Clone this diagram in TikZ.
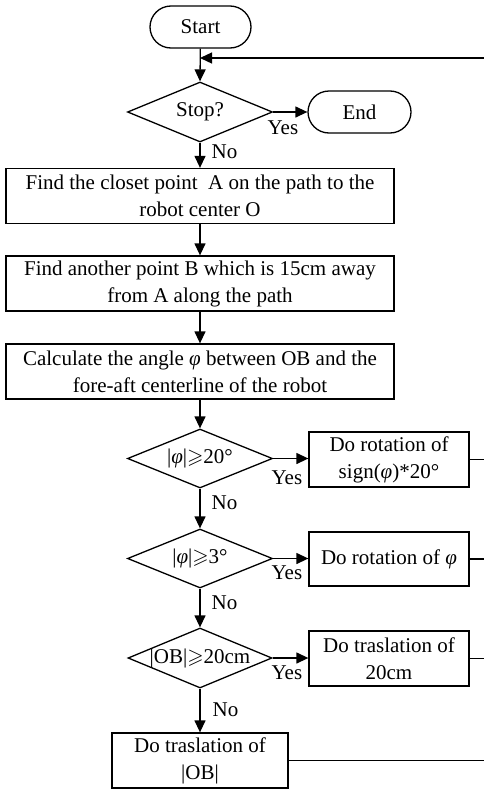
\documentclass[tikz,border=0pt]{standalone}
\usepackage{fontspec}
\usepackage{amssymb}
\setmainfont{Liberation Serif}
\usetikzlibrary{shapes.geometric,arrows.meta}
\newcommand{\ph}{{\itshape φ}}
\newcommand{\gs}{\ensuremath{\geqslant}}
\begin{document}
\begin{tikzpicture}[x=1pt,y=-1pt,
  font=\fontsize{21}{27}\selectfont,
  line width=1.3pt,
  >={Triangle[length=12pt,width=11pt]},
  term/.style={draw,rectangle,rounded corners=21pt,minimum height=42pt,inner sep=0pt},
  proc/.style={draw,rectangle,align=center,inner sep=0pt,minimum height=55pt},
  dec/.style={draw,diamond,inner sep=0pt,minimum width=145pt,minimum height=60pt},
  lbl/.style={inner sep=0pt,anchor=west}]
\useasboundingbox (0,0) rectangle (484,790);

% terminals
\node[term,minimum width=101pt] (start) at (200.5,27) {Start};
\node[dec] (stop) at (200,112) {\makebox[0pt]{Stop?}};
\node[term,minimum width=103pt] (end) at (359.5,112) {End};

% main column
\node[proc,minimum width=388pt] (p1) at (200,196) {Find the closet point\ \ A on the path to the\\robot center O};
\node[proc,minimum width=388pt] (p2) at (200,283.5) {Find another point B which is 15cm away\\from A along the path};
\node[proc,minimum width=388pt] (p3) at (200,371.5) {Calculate the angle \ph\ between OB and the\\fore-aft centerline of the robot};

% decisions
\node[dec,minimum height=59pt] (d1) at (200,458.5) {\makebox[0pt]{|\ph|\gs20°}};
\node[dec,minimum height=59pt] (d2) at (200,558.5) {\makebox[0pt]{|\ph|\gs3°}};
\node[dec,minimum width=144pt] (d3) at (200,658) {\makebox[0pt]{|OB|\gs20cm}};

% actions
\node[proc,minimum width=160pt] (a1) at (389,459.5) {Do rotation of\\sign(\ph)*20°};
\node[proc,minimum width=160pt,minimum height=54pt] (a2) at (389,559) {Do rotation of \ph};
\node[proc,minimum width=160pt] (a3) at (389,658.5) {Do traslation of\\20cm};
\node[proc,minimum width=176pt] (a4) at (200,760.5) {Do traslation of\\|OB|};

% loop-back line
\coordinate (fbR) at (484,58);
\coordinate (fbL) at (200,58);

% connectors
\draw[->] (start) -- (stop.north);
\draw[->] (fbR) -- (fbL);
\draw[->] (stop.east) -- (end.west);
\draw[->] (stop.south) -- (p1.north);
\draw[->] (p1) -- (p2);
\draw[->] (p2) -- (p3);
\draw[->] (p3) -- (d1.north);
\draw[->] (d1.east) -- (d1.east -| a1.west);
\draw[->] (d1.south) -- (d2.north);
\draw[->] (d2.east) -- (d2.east -| a2.west);
\draw[->] (d2.south) -- (d3.north);
\draw[->] (d3.east) -- (d3.east -| a3.west);
\draw[->] (d3.south) -- (a4.north);

\draw (a1.east) -- (a1.east -| fbR);
\draw (a2.east) -- (a2.east -| fbR);
\draw (a3.east) -- (a3.east -| fbR);
\draw (a4.east) -- (a4.east -| fbR);

% branch labels
\node[lbl] (y0) at (267,128) {Yes};
\node[lbl] (y1) at (271,478) {Yes};
\node[lbl] (y2) at (271,573) {Yes};
\node[lbl] (y3) at (271,673) {Yes};
\node[lbl] (n0) at (211,152) {No};
\node[lbl] (n1) at (211,503) {No};
\node[lbl] (n2) at (211,603) {No};
\node[lbl] (n3) at (212,710) {No};
\end{tikzpicture}
\end{document}
